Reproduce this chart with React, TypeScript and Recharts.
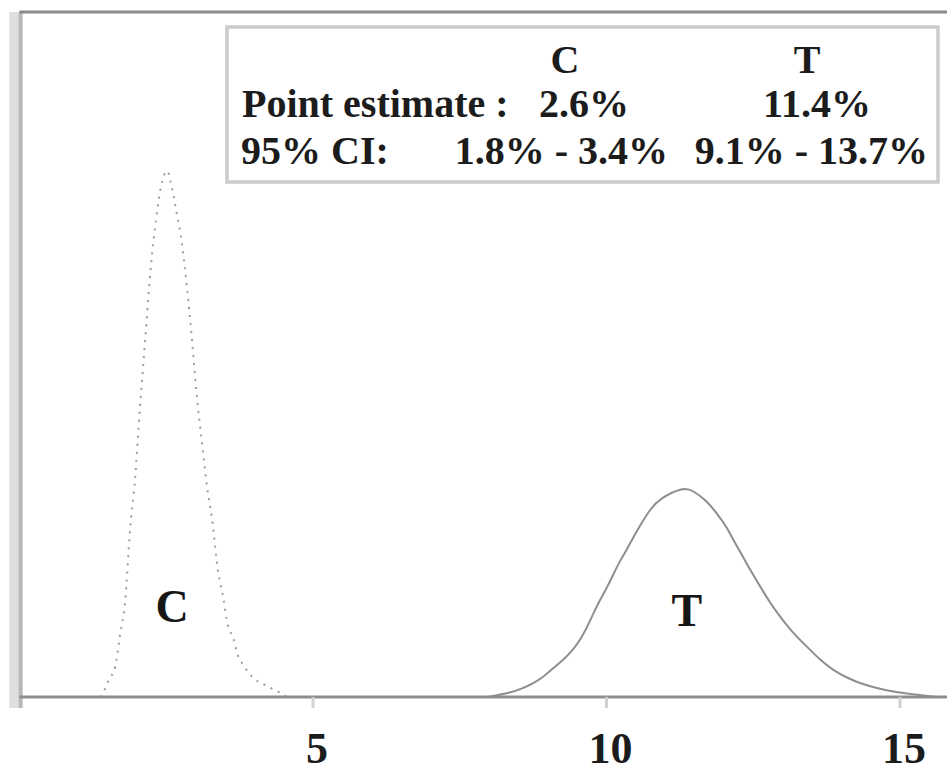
import React from "react";
import {
  LineChart,
  Line,
  XAxis,
  YAxis,
  ReferenceLine,
  ReferenceDot,
} from "recharts";

// control curve (dotted)
const C_X = [1.38, 1.44, 1.52, 1.63, 1.71, 1.8, 1.88, 1.97, 2.05, 2.14, 2.24, 2.33, 2.41, 2.52, 2.58, 2.67, 2.77, 2.85, 2.94, 3.02, 3.11, 3.19, 3.28, 3.38, 3.47, 3.55, 3.64, 3.72, 3.81, 3.98, 4.17, 4.42, 4.55];
const C_Y = [0, 0.009, 0.025, 0.044, 0.089, 0.14, 0.24, 0.32, 0.42, 0.52, 0.63, 0.7, 0.745, 0.768, 0.75, 0.71, 0.66, 0.6, 0.52, 0.44, 0.37, 0.31, 0.26, 0.185, 0.145, 0.105, 0.086, 0.061, 0.047, 0.028, 0.018, 0.007, 0];

// treatment curve (solid)
const T_X = [7.98, 8.36, 8.58, 8.75, 8.92, 9.09, 9.26, 9.43, 9.55, 9.67, 9.77, 9.89, 10.01, 10.11, 10.23, 10.35, 10.45, 10.57, 10.74, 10.91, 11.29, 11.47, 11.71, 11.88, 12.05, 12.16, 12.33, 12.45, 12.62, 12.79, 12.96, 13.18, 13.42, 13.64, 13.86, 14.1, 14.32, 14.61, 14.88, 15.63];
const T_Y = [0, 0.006, 0.013, 0.02, 0.029, 0.042, 0.054, 0.069, 0.083, 0.102, 0.121, 0.142, 0.16, 0.178, 0.199, 0.216, 0.232, 0.25, 0.274, 0.29, 0.306, 0.302, 0.286, 0.268, 0.248, 0.229, 0.204, 0.185, 0.161, 0.137, 0.117, 0.093, 0.073, 0.054, 0.039, 0.028, 0.02, 0.013, 0.007, 0];

const X_TICKS = [5, 10, 15];
const GROUPS = ["C", "T"];
const POINT_EST = ["2.6%", "11.4%"];
const CI_95 = ["1.8% - 3.4%", "9.1% - 13.7%"];

const cData = C_X.map((x, i) => ({ x, y: C_Y[i] }));
const tData = T_X.map((x, i) => ({ x, y: T_Y[i] }));

const FONT = "'Liberation Serif', 'Times New Roman', serif";

const renderTick = (props: any) => {
  const { x, y, payload } = props;
  return (
    <text
      x={x + 4}
      y={y + 53}
      textAnchor="middle"
      fontFamily={FONT}
      fontWeight="bold"
      fontSize={44}
      fill="#1c1c1c"
    >
      {payload.value}
    </text>
  );
};

const curveLabel = (value: string) => ({
  value,
  position: "center" as const,
  fontFamily: FONT,
  fontWeight: "bold",
  fontSize: 46,
  fill: "#161616",
});

export default function App() {
  const txt = { fontFamily: FONT, fontWeight: "bold", fontSize: 40, fill: "#1c1c1c" };
  return (
    <div style={{ position: "relative", width: 947, height: 773, background: "#fff" }}>
      <style>{"body{margin:0}"}</style>
      <LineChart width={947} height={773} margin={{ top: 12, right: 0, bottom: 0, left: 19.5 }}>
        <XAxis
          type="number"
          dataKey="x"
          domain={[0, 15.8]}
          ticks={X_TICKS}
          allowDataOverflow
          height={76}
          axisLine={{ stroke: "#8e8e8e", strokeWidth: 3 }}
          tickLine={{ stroke: "#d0d0d0", strokeWidth: 3 }}
          tickSize={11}
          tick={renderTick}
        />
        <YAxis type="number" domain={[0, 1]} hide />
        <ReferenceLine
          segment={[{ x: -0.09, y: -0.016 }, { x: -0.09, y: 1 }]}
          stroke="#dedede"
          strokeWidth={10}
          ifOverflow="visible"
        />
        <ReferenceLine
          segment={[{ x: 0.02, y: -0.016 }, { x: 0.02, y: 1 }]}
          stroke="#b8b8b8"
          strokeWidth={4}
          ifOverflow="visible"
        />
        <ReferenceLine y={1} stroke="#8a8a8a" strokeWidth={3} ifOverflow="visible" />
        <Line
          data={cData}
          dataKey="y"
          type="monotone"
          stroke="#9c9c9c"
          strokeWidth={2}
          strokeDasharray="2 6"
          dot={false}
          isAnimationActive={false}
        />
        <Line
          data={tData}
          dataKey="y"
          type="basis"
          stroke="#8e8e8e"
          strokeWidth={2}
          dot={false}
          isAnimationActive={false}
        />
        <ReferenceDot x={2.6} y={0.134} r={0} fill="none" stroke="none" label={curveLabel(GROUPS[0])} />
        <ReferenceDot x={11.37} y={0.127} r={0} fill="none" stroke="none" label={curveLabel(GROUPS[1])} />
      </LineChart>
      <svg
        width={947}
        height={773}
        style={{ position: "absolute", left: 0, top: 0, pointerEvents: "none" }}
      >
        <rect x={227} y={27} width={711} height={155} fill="#fff" stroke="#cccccc" strokeWidth={3.5} />
        <text x={565} y={73} textAnchor="middle" {...txt}>{GROUPS[0]}</text>
        <text x={807} y={73} textAnchor="middle" {...txt}>{GROUPS[1]}</text>
        <text x={242} y={117} {...txt}>Point estimate :</text>
        <text x={584} y={117} textAnchor="middle" {...txt}>{POINT_EST[0]}</text>
        <text x={817} y={117} textAnchor="middle" {...txt}>{POINT_EST[1]}</text>
        <text x={241} y={164} {...txt}>95% CI:</text>
        <text x={668} y={164} textAnchor="end" {...txt}>{CI_95[0]}</text>
        <text x={928} y={164} textAnchor="end" {...txt}>{CI_95[1]}</text>
      </svg>
    </div>
  );
}
